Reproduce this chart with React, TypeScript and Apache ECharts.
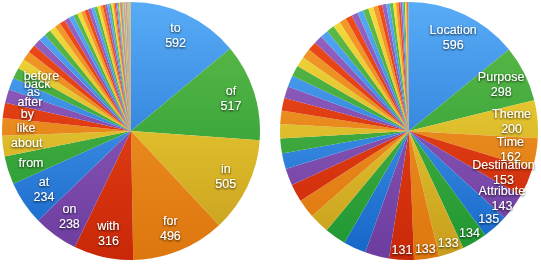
import React, { useEffect, useRef } from "react";
import * as echarts from "echarts";

// Left pie: prepositions
const leftNames = ["to", "of", "in", "for", "with", "on", "at", "from", "about", "like", "by", "after", "as", "back", "before"];
const leftValues = [
  592, 517, 505, 496, 316, 238, 234, 150, 110, 92, 82, 72, 64, 58, 53,
  48, 44, 41, 38, 35, 33, 31, 29, 27, 25, 23, 21, 20, 19, 18, 17, 16, 15, 14, 13,
  12, 11, 10, 9, 8, 7, 6, 5, 5, 4, 4, 4, 3, 3, 3, 3,
  2, 2, 2, 2, 2, 2, 2, 2, 2, 2,
  1, 1, 1, 1, 1, 1, 1, 1, 1, 1, 1, 1, 1, 1, 1, 1, 1, 1, 1, 1,
];
const leftNameValueCount = 7; // labels with name and value
// Right pie: semantic roles
const rightNames = ["Location", "Purpose", "Theme", "Time", "Destination", "Attribute"];
const rightValues = [
  596, 298, 200, 162, 153, 143, 135, 134, 133, 133, 131,
  128, 120, 113, 106, 100, 94, 89, 84, 79, 75, 71, 67, 63, 60, 57, 54, 51, 48, 45, 43,
  41, 39, 37, 35, 33, 31, 29, 27, 25, 23, 21, 19, 17, 15, 13, 11, 9, 8, 7, 6, 5, 4, 3, 2, 1,
];
const rightValueLabelCount = 11; // slices labelled with their value

const R = 129;
const CY = 131;
const LEFT_CX = 131;
const RIGHT_CX = 409;

const palette = [
  ["#58acf6", "#1565c8"], // blue
  ["#62bc48", "#1c9633"], // green
  ["#f6de3c", "#c79d1c"], // yellow
  ["#f49c2c", "#dd760e"], // orange
  ["#f24e1c", "#c92808"], // red
  ["#9865c4", "#6c3c9e"], // purple
];

const grads = palette.map(
  ([a, b]) =>
    new echarts.graphic.LinearGradient(0, CY - R, 0, CY + R, [
      { offset: 0, color: a },
      { offset: 1, color: b },
    ], true)
);

const labelStyle = {
  color: "#fff",
  fontFamily: "Liberation Sans, Arial, Helvetica, sans-serif",
  fontSize: 12.5,
  lineHeight: 15,
  textShadowColor: "rgba(0,0,0,0.85)",
  textShadowBlur: 2,
  textShadowOffsetY: 1,
};

function mainSeries(cx: number, values: number[], names: string[]) {
  return {
    type: "pie",
    center: [cx, CY],
    radius: [0, R],
    silent: true,
    label: { show: false },
    labelLine: { show: false },
    itemStyle: { borderWidth: 0 },
    data: values.map((v, i) => ({
      value: v,
      name: names[i] ?? "",
      itemStyle: { color: grads[i % 6] },
    })),
  };
}

function labelSeries(
  cx: number,
  values: number[],
  names: string[],
  mid: number,
  show: (i: number) => boolean,
  text: (i: number) => string
) {
  return {
    type: "pie",
    center: [cx, CY],
    radius: [2 * mid - R, R],
    silent: true,
    labelLine: { show: false },
    labelLayout: { hideOverlap: false },
    itemStyle: { color: "rgba(0,0,0,0)", borderWidth: 0 },
    label: {
      position: "inside",
      ...labelStyle,
      formatter: (p: any) => text(p.dataIndex),
    },
    data: values.map((v, i) => ({
      value: v,
      name: names[i] ?? "",
      label: { show: show(i) },
    })),
  };
}

export default function App() {
  const ref = useRef<HTMLDivElement>(null);
  useEffect(() => {
    if (!ref.current) return;
    const chart = echarts.init(ref.current, undefined, { renderer: "svg" });
    const leftText = (i: number) =>
      i < leftNameValueCount ? `${leftNames[i]}\n${leftValues[i]}` : leftNames[i];
    const rightText = (i: number) =>
      i < rightNames.length ? `${rightNames[i]}\n${rightValues[i]}` : `${rightValues[i]}`;
    chart.setOption({
      animation: false,
      series: [
        mainSeries(LEFT_CX, leftValues, leftNames),
        mainSeries(RIGHT_CX, rightValues, rightNames),
        labelSeries(LEFT_CX, leftValues, leftNames, 102, (i) => i < leftNames.length, leftText),
        labelSeries(RIGHT_CX, rightValues, rightNames, 100, (i) => i < rightNames.length - 1, rightText),
        labelSeries(RIGHT_CX, rightValues, rightNames, 112, (i) => i === rightNames.length - 1, rightText),
        labelSeries(
          RIGHT_CX,
          rightValues,
          rightNames,
          116,
          (i) => i >= rightNames.length && i < rightValueLabelCount,
          rightText
        ),
      ],
    });
    return () => chart.dispose();
  }, []);
  return (
    <div
      ref={ref}
      style={{ position: "fixed", left: 0, top: 0, width: 541, height: 264, background: "#fff" }}
    />
  );
}
